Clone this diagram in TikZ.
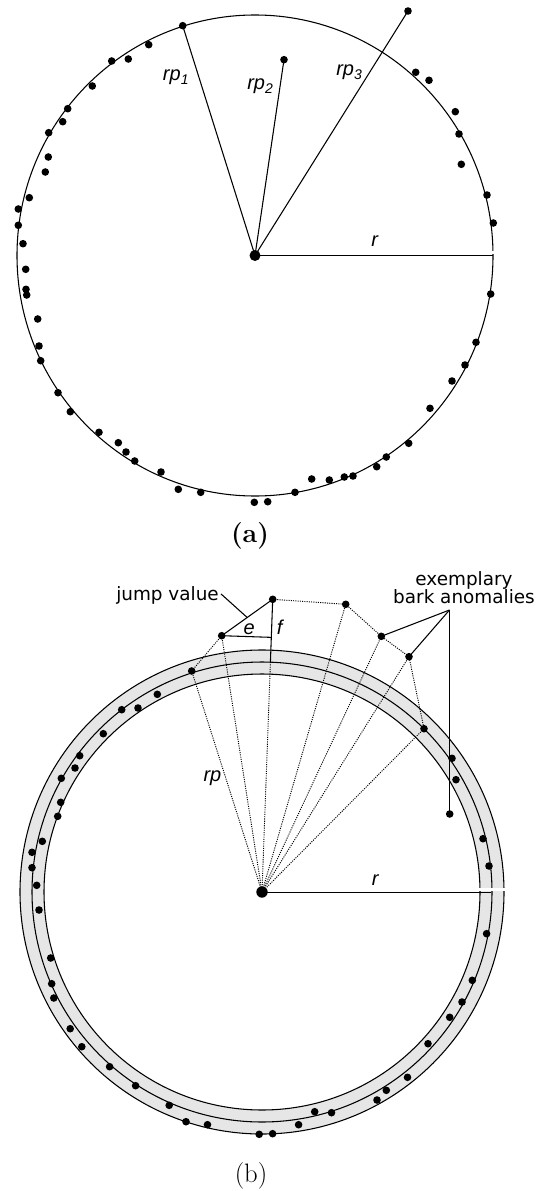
\documentclass[tikz,border=0pt]{standalone}
\usepackage{fontspec}
\newfontfamily\labfont{Liberation Sans}
\newfontfamily\txtfont{DejaVu Sans}
\usetikzlibrary{calc}
\definecolor{ringgrey}{HTML}{E6E6E6}
\begin{document}
\begin{tikzpicture}[x=0.75pt,y=-0.75pt,
  lab/.style={font=\labfont\itshape\fontsize{15}{17}\selectfont, inner sep=0pt},
  txt/.style={font=\txtfont\fontsize{13.8}{16}\selectfont, inner sep=0pt},
  capt/.style={font=\fontsize{20}{22}\selectfont, inner sep=0pt},
  ln/.style={line width=0.8pt},
  dln/.style={line width=0.7pt, dash pattern=on 0.8pt off 0.9pt},
  dotr/.style={radius=3.8}]
\useasboundingbox (0,0) rectangle (537,1191);

% ---------------- (a) ----------------
\coordinate (A) at (255,255.5);
\coordinate (p1) at (182.7,25.7);
\coordinate (p2) at (284,59.7);
\coordinate (p3) at (408,11);
\coordinate (ra) at (493,255.5);
\draw[ln] (A) ellipse[x radius=238, y radius=240.5];
\fill[white] (488,251) rectangle (498,254);
\draw[ln] (A) -- (p1);
\draw[ln] (A) -- (p2);
\draw[ln] (A) -- (p3);
\draw[ln] (A) -- (ra);
\fill (A) circle[radius=5.5];
\foreach \p in {p1,p2,p3} \fill (\p) circle[dotr];
\foreach \x/\y in {148.7/44.7,111.7/61,128.3/59,92.3/86,67.7/108.7,62.7/121.7,48.7/132.7,
  48.3/157,45.3/172,29.3/197.7,18.3/209,18.3/225.3,23/243.7,25.7/269.3,26/289.3,26.7/295,
  37.7/319,39/346,40.7/360.7,58/392.7,70.3/411.7,99/432.3,118.3/442.7,126/452,134.7/461,
  161/472,178.3/489.3,200.7/492.3,254.3/502.3,267.7/501.7,295/492.3,311.7/479,329.3/480,
  344.3/477,353/476,376.7/466.7,386.3/457,408.7/443.3,430/408.3,452/381,465/365,476/342.3,
  490.7/294,415.7/72.3,429/80.3,455.3/111.7,459/134,461.3/164.3,487/195,493.3/223}
  \fill (\x,\y) circle[dotr];
\node[lab, anchor=base west] (lrp1) at (162.7,81) {rp\textsubscript{1}};
\node[lab, anchor=base west] (lrp2) at (247,90) {rp\textsubscript{2}};
\node[lab, anchor=base west] (lrp3) at (336,76) {rp\textsubscript{3}};
\node[lab, anchor=base west] (lra) at (371,247) {r};
\node[capt, font=\bfseries\fontsize{20}{22}\selectfont, anchor=base] (capa) at (250,542) {(a)};

% ---------------- (b) ----------------
\coordinate (C) at (262,892);
\fill[ringgrey, even odd rule] (C) circle[radius=242] (C) circle[radius=218];
\draw[ln] (C) circle[radius=242];
\draw[ln] (C) circle[radius=230];
\draw[ln] (C) circle[radius=218];
\fill[white] (475,887.5) rectangle (507,890.8);
\coordinate (rb) at (491,892);

% anomaly dots
\coordinate (q0) at (191.7,671);
\coordinate (L) at (221.7,635.7);
\coordinate (T) at (272.7,599.3);
\coordinate (q3) at (345.7,604.3);
\coordinate (q4) at (381.3,636.3);
\coordinate (q5) at (409,656.7);
\coordinate (q6) at (424,728.7);
\coordinate (q7) at (449.7,814);
\coordinate (ex) at (449.5,610);

% dotted outline and radials
\draw[dln] (q0) -- (L);
\draw[dln] (T) -- (q3) -- (q4) -- (q5) -- (q6);
\foreach \p in {q0,L,q3,q4,q5,q6} \draw[dln] (C) -- (\p);
\coordinate (fb) at ($(T)!0.2147!(C)$);
\draw[dln] (fb) -- (C);
\draw[ln] (T) -- (fb);
\draw[ln] (L) -- (T);
\coordinate (eb) at ($(T)!0.13!(C)$);
\draw[ln] (L) -- (eb);
\draw[line width=0.7pt] (C) -- (rb);
% leaders
\draw[ln] (ex) -- (q4);
\draw[ln] (ex) -- (q5);
\draw[ln] (ex) -- (ex |- q7);

\fill (C) circle[radius=5.7];
\foreach \p in {q0,L,T,q3,q4,q5,q6,q7} \fill (\p) circle[dotr];
\foreach \x/\y in {157.3/694.3,121.7/709.7,138/708,103.3/733.7,79.7/755.7,75/768,61.3/778.3,
  60.7/802.3,57.7/816.3,42.3/841.3,32/852.3,32/867.7,36.7/885.3,39/910,50.7/958,51.7/983.7,
  53.8/998,70.2/1028.7,81.8/1046.7,109.6/1066.7,135.6/1085.7,169.2/1105.3,186/1121.7,
  207.5/1124.7,259.2/1134.3,272.6/1133.7,298.6/1124.7,314.7/1111.7,331.5/1112.7,377/1100,
  386.3/1090.3,407.5/1077.3,428/1043.7,449.7/1017.3,462/1002,472.3/980.3,486.6/933.7,
  489/866,483/838.7,456/779.7,452/758.3}
  \fill (\x,\y) circle[dotr];

\node[txt, anchor=base west] (jv) at (116,600) {jump value};
\draw[ln] (jv.east) ++(2,-1) coordinate (jve) -- ($(L)!0.5!(T)$);
\node[txt, anchor=base] (ex1) at (464,585) {exemplary};
\node[txt, anchor=base] (ex2) at (464,603.3) {bark anomalies};
\node[lab, anchor=base west] (le) at (243.3,634) {e};
\node[lab, anchor=base west] (lf) at (276.7,634) {f};
\node[lab, anchor=base west] (lrp) at (203.3,781.7) {rp};
\node[lab, anchor=base west] (lrb) at (371.7,885) {r};
\node[capt, anchor=base] (capb) at (251,1182) {(b)};
\end{tikzpicture}
\end{document}
